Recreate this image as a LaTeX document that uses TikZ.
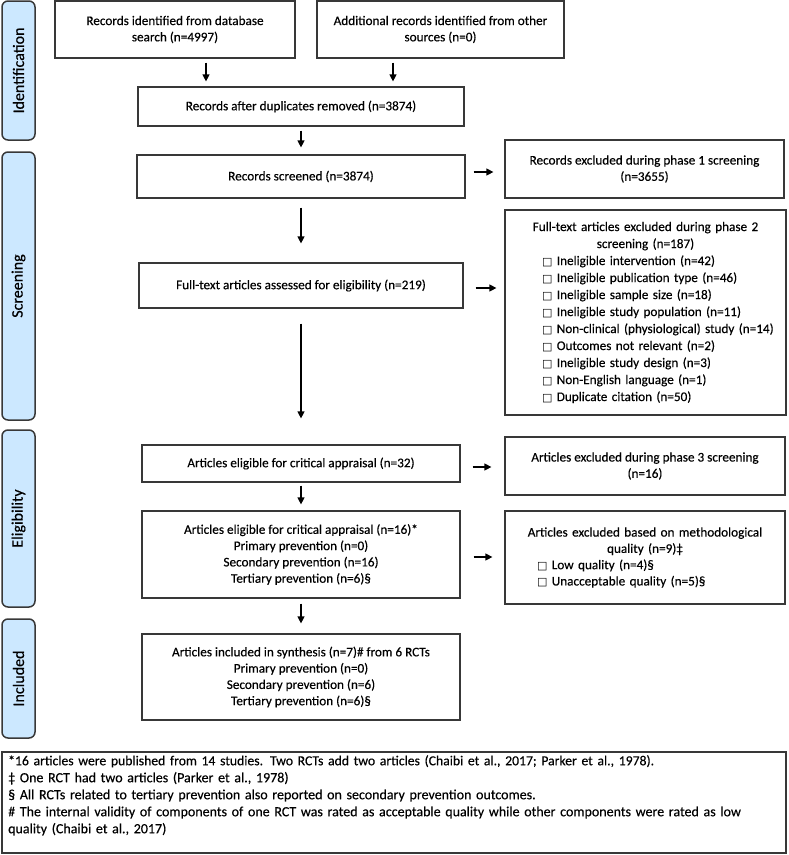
\documentclass[tikz,border=0pt]{standalone}
\usepackage{fontspec}
\setmainfont{Carlito}[FakeBold=0.35]
\newfontfamily\symfont{DejaVu Sans}
\usetikzlibrary{arrows.meta}
\definecolor{sidefill}{HTML}{CCE8FF}
\definecolor{edge}{HTML}{383838}
\newcommand{\sqb}{{\symfont\fontsize{11}{10}\selectfont □}\ }
\begin{document}
\begin{tikzpicture}[x=1pt,y=-1pt,
  box/.style={draw=edge, line width=1.2pt, inner sep=0pt, align=center, font=\fontsize{13.2}{16.3}\selectfont},
  side/.style={draw=edge, fill=sidefill, line width=1.5pt, rounded corners=6pt, minimum height=33pt, inner sep=0pt, rotate=90, font=\fontsize{16}{18}\selectfont},
  arr/.style={line width=1.2pt, -{Triangle[width=7pt,length=7pt]}}]
\useasboundingbox (0,0) rectangle (788,855);
% side labels
\node[side, minimum width=139pt] (sidA) at (18.5,70.5) {Identification};
\node[side, minimum width=268pt] (sidB) at (18.5,286) {Screening};
\node[side, minimum width=177pt] (sidC) at (18.5,518.5) {Eligibility};
\node[side, minimum width=119pt] (sidD) at (18.5,678.5) {Included};
% main column
\node[box, minimum width=240pt, minimum height=57pt] (idb) at (175,29.5) {Records identified from database\\search (n=4997)};
\node[box, minimum width=247pt, minimum height=57pt] (add) at (440.5,29.5) {Additional records identified from other\\sources (n=0)};
\node[box, minimum width=326pt, minimum height=39pt] (dup) at (301,106.5) {Records after duplicates removed (n=3874)};
\node[box, minimum width=328pt, minimum height=43pt] (scr) at (301,176.5) {Records screened (n=3874)};
\node[box, minimum width=324pt, minimum height=45pt] (ft) at (301,285.5) {Full-text articles assessed for eligibility (n=219)};
\node[box, minimum width=318pt, minimum height=37pt] (e32) at (301,463.5) {Articles eligible for critical appraisal (n=32)};
\node[box, minimum width=318pt, minimum height=87pt] (e16) at (301,554.5) {Articles eligible for critical appraisal (n=16)*\\Primary prevention (n=0)\\Secondary prevention (n=16)\\Tertiary prevention (n=6)§};
\node[box, minimum width=318pt, minimum height=86pt] (inc) at (301,677) {Articles included in synthesis (n=7)\# from 6 RCTs\\Primary prevention (n=0)\\Secondary prevention (n=6)\\Tertiary prevention (n=6)§};
% right column
\node[box, minimum width=279pt, minimum height=58pt] (x1) at (644.5,169) {Records excluded during phase 1 screening\\(n=3655)};
\node[box, minimum width=281pt, minimum height=205pt, text width=260pt, align=left, font=\fontsize{13.2}{17}\selectfont] (x2) at (645.5,312.5) {{\centering Full-text articles excluded during phase 2\\screening (n=187)\par}
\hspace*{26.5pt}\sqb Ineligible intervention (n=42)\\
\hspace*{26.5pt}\sqb Ineligible publication type (n=46)\\
\hspace*{26.5pt}\sqb Ineligible sample size (n=18)\\
\hspace*{26.5pt}\sqb Ineligible study population (n=11)\\
\hspace*{26.5pt}\sqb Non-clinical (physiological) study (n=14)\\
\hspace*{26.5pt}\sqb Outcomes not relevant (n=2)\\
\hspace*{26.5pt}\sqb Ineligible study design (n=3)\\
\hspace*{26.5pt}\sqb Non-English language (n=1)\\
\hspace*{26.5pt}\sqb Duplicate citation (n=50)};
\node[box, minimum width=280pt, minimum height=58pt] (x3) at (645,466) {Articles excluded during phase 3 screening\\(n=16)};
\node[box, minimum width=280pt, minimum height=93pt, text width=250pt, align=left] (x4) at (645,557.5) {{\centering Articles excluded based on methodological\\quality (n=9)‡\par}
\hspace*{17pt}\sqb Low quality (n=4)§\\
\hspace*{17pt}\sqb Unacceptable quality (n=5)§};
% footnote
\node[draw=edge, line width=1.2pt, minimum width=784pt, minimum height=101pt, inner sep=0pt] (footbox) at (394,802.5) {};
\node[anchor=north west, align=left, inner sep=0pt, text width=778pt, font=\fontsize{14}{17}\selectfont] (foottext) at (8,755) {{\fontsize{13.7}{17}\selectfont *16 articles were published from 14 studies. Two RCTs add two articles (Chaibi et al., 2017; Parker et al., 1978).}\\
‡ One RCT had two articles (Parker et al., 1978)\\
§ All RCTs related to tertiary prevention also reported on secondary prevention outcomes.\\
\# The internal validity of components of one RCT was rated as acceptable quality while other components were rated as low\\
quality (Chaibi et al., 2017)};
% arrows
\coordinate (ax1) at (206,0);
\coordinate (ax2) at (393,0);
\coordinate (ay1) at (0,172);
\coordinate (ay2) at (0,288);
\coordinate (ay3) at (0,467);
\coordinate (ay4) at (0,557);
\draw[arr, shorten <=4pt, shorten >=5pt] (idb.south -| ax1) -- (dup.north -| ax1);
\draw[arr, shorten <=4pt, shorten >=5pt] (add.south -| ax2) -- (dup.north -| ax2);
\draw[arr, shorten <=4pt, shorten >=7pt] (dup.south) -- (scr.north);
\draw[arr, shorten <=9pt, shorten >=19pt] (scr.south) -- (ft.north);
\draw[arr, shorten <=15pt, shorten >=26pt] (ft.south) -- (e32.north);
\draw[arr, shorten <=3pt, shorten >=6pt] (e32.south) -- (e16.north);
\draw[arr, shorten <=5pt, shorten >=10pt] (e16.south) -- (inc.north);
\draw[arr, shorten <=8pt, shorten >=11pt] (scr.east |- ay1) -- (x1.west |- ay1);
\draw[arr, shorten <=12pt, shorten >=8pt] (ft.east |- ay2) -- (x2.west |- ay2);
\draw[arr, shorten <=12pt, shorten >=13pt] (e32.east |- ay3) -- (x3.west |- ay3);
\draw[arr, shorten <=13pt, shorten >=12pt] (e16.east |- ay4) -- (x4.west |- ay4);
\end{tikzpicture}
\end{document}
